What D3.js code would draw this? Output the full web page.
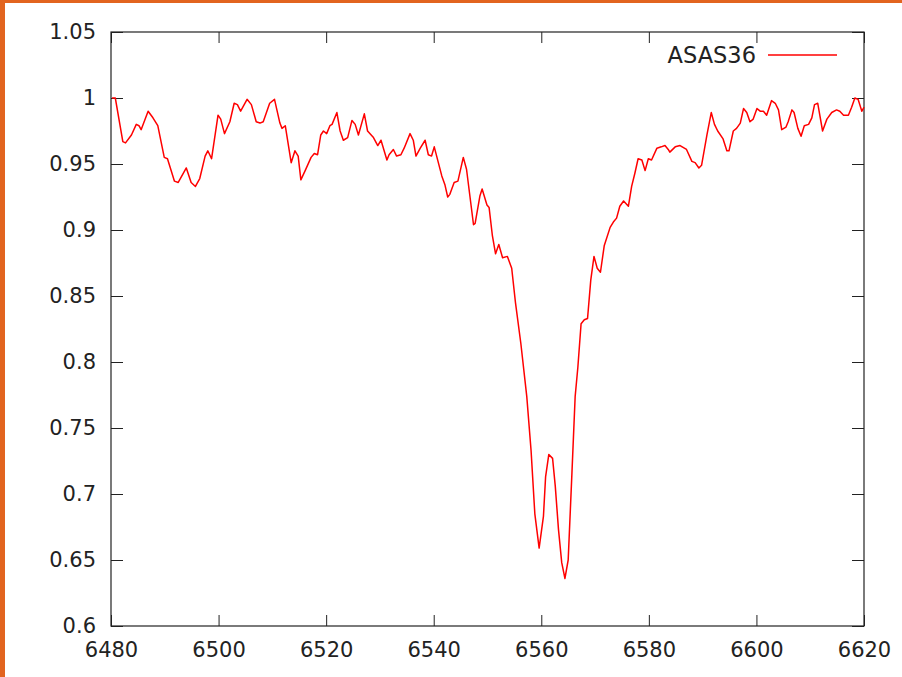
<!DOCTYPE html>
<html>
<head>
<meta charset="utf-8">
<script src="https://cdn.jsdelivr.net/npm/d3@7"></script>
<style>
	body { margin: 0; background: #ffffff; }
	svg { display: block; }
</style>
</head>
<body>
<div id="chart"></div>
<script>

// spectrum, wavelength in angstrom
var wavelength = [
	6480.2, 6480.8, 6482.2, 6482.7, 6483.8, 6484.7, 6485.2, 6485.6, 6486.9, 6487.8,
	6488.7, 6489.9, 6490.5, 6491.8, 6492.5, 6494.0, 6494.9, 6495.7, 6496.5, 6497.5,
	6498.0, 6498.7, 6499.9, 6500.4, 6501.1, 6502.1, 6502.9, 6503.5, 6504.1, 6505.3,
	6506.1, 6507.0, 6507.7, 6508.3, 6509.5, 6510.4, 6511.4, 6511.8, 6512.4, 6513.5,
	6514.2, 6514.8, 6515.3, 6516.1, 6517.2, 6517.8, 6518.4, 6519.0, 6519.5, 6520.1,
	6520.7, 6521.1, 6522.0, 6522.6, 6523.2, 6524.0, 6524.8, 6525.4, 6526.0, 6527.1,
	6527.7, 6528.8, 6529.6, 6530.2, 6531.3, 6531.7, 6532.5, 6533.1, 6533.9, 6534.5,
	6535.6, 6536.2, 6536.7, 6537.5, 6538.4, 6539.0, 6539.6, 6540.1, 6541.5, 6542.1,
	6542.6, 6543.0, 6543.8, 6544.5, 6545.5, 6546.1, 6547.4, 6547.7, 6548.6, 6549.0,
	6549.9, 6550.3, 6550.9, 6551.5, 6552.1, 6552.8, 6553.7, 6554.5, 6555.2, 6556.2,
	6557.3, 6558.1, 6558.8, 6559.6, 6560.4, 6560.8, 6561.4, 6562.1, 6562.6, 6563.2,
	6563.8, 6564.4, 6565.0, 6565.7, 6566.3, 6566.8, 6567.4, 6568.0, 6568.6, 6569.2,
	6569.8, 6570.4, 6571.0, 6571.7, 6572.8, 6573.4, 6574.0, 6574.6, 6575.3, 6576.2,
	6576.8, 6577.4, 6578.0, 6578.7, 6579.3, 6579.9, 6580.5, 6581.5, 6582.3, 6583.0,
	6583.6, 6583.9, 6584.9, 6585.8, 6587.0, 6588.0, 6588.6, 6589.3, 6589.8, 6590.8,
	6591.6, 6592.2, 6592.8, 6593.8, 6594.5, 6594.9, 6595.7, 6596.3, 6597.0, 6597.6,
	6598.2, 6598.8, 6599.4, 6600.1, 6600.7, 6601.3, 6601.9, 6602.8, 6603.5, 6604.1,
	6604.7, 6605.5, 6605.9, 6606.6, 6607.0, 6607.7, 6608.3, 6608.9, 6609.7, 6610.3,
	6610.8, 6611.4, 6612.3, 6613.1, 6614.0, 6614.9, 6615.5, 6616.2, 6617.1, 6617.7,
	6618.3, 6618.9, 6619.6, 6620.0
];

var flux = [
	1.000, 1.000, 0.967, 0.966, 0.972, 0.980, 0.979, 0.976, 0.990, 0.985,
	0.979, 0.955, 0.954, 0.937, 0.936, 0.947, 0.936, 0.933, 0.939, 0.956,
	0.960, 0.954, 0.987, 0.984, 0.973, 0.982, 0.996, 0.995, 0.990, 0.999,
	0.995, 0.982, 0.981, 0.982, 0.996, 0.999, 0.981, 0.977, 0.979, 0.951,
	0.960, 0.956, 0.938, 0.945, 0.955, 0.958, 0.957, 0.972, 0.975, 0.973,
	0.979, 0.980, 0.989, 0.975, 0.968, 0.970, 0.983, 0.980, 0.972, 0.988,
	0.975, 0.970, 0.964, 0.968, 0.953, 0.957, 0.961, 0.956, 0.957, 0.962,
	0.973, 0.968, 0.956, 0.962, 0.968, 0.957, 0.956, 0.963, 0.941, 0.934,
	0.925, 0.927, 0.936, 0.937, 0.955, 0.946, 0.904, 0.905, 0.926, 0.931,
	0.919, 0.917, 0.896, 0.882, 0.889, 0.879, 0.880, 0.871, 0.845, 0.814,
	0.774, 0.733, 0.685, 0.659, 0.683, 0.713, 0.730, 0.727, 0.706, 0.673,
	0.648, 0.636, 0.650, 0.716, 0.774, 0.796, 0.829, 0.832, 0.833, 0.862,
	0.880, 0.871, 0.868, 0.888, 0.902, 0.906, 0.909, 0.918, 0.922, 0.918,
	0.933, 0.943, 0.954, 0.953, 0.945, 0.954, 0.953, 0.962, 0.963, 0.964,
	0.961, 0.959, 0.963, 0.964, 0.961, 0.952, 0.951, 0.947, 0.949, 0.972,
	0.989, 0.980, 0.975, 0.969, 0.960, 0.960, 0.975, 0.977, 0.981, 0.992,
	0.989, 0.982, 0.984, 0.992, 0.990, 0.990, 0.987, 0.998, 0.996, 0.991,
	0.976, 0.978, 0.982, 0.991, 0.989, 0.977, 0.971, 0.979, 0.980, 0.985,
	0.995, 0.996, 0.975, 0.984, 0.989, 0.991, 0.990, 0.987, 0.987, 0.993,
	1.000, 0.999, 0.990, 0.993
];

var xTicks = [6480, 6500, 6520, 6540, 6560, 6580, 6600, 6620];
var yTicks = [0.6, 0.65, 0.7, 0.75, 0.8, 0.85, 0.9, 0.95, 1, 1.05];
var seriesName = "ASAS36";


var width = 902;
var height = 677;
var margin = {top: 32, right: 38, bottom: 51, left: 111};

var plotW = width - margin.left - margin.right;
var plotH = height - margin.top - margin.bottom;

var svg = d3.select("#chart").append("svg")
	.attr("width", width)
	.attr("height", height);

// orange frame strips along the left and top of the screenshot
svg.append("rect")
	.attr("x", 0).attr("y", 0)
	.attr("width", width).attr("height", 3)
	.attr("fill", "#e2641f");
svg.append("rect")
	.attr("x", 0).attr("y", 0)
	.attr("width", 5).attr("height", height)
	.attr("fill", "#e2641f");

var g = svg.append("g")
	.attr("transform", "translate(" + margin.left + "," + margin.top + ")");

var x = d3.scaleLinear().domain([6480, 6620]).range([0, plotW]);
var y = d3.scaleLinear().domain([0.6, 1.05]).range([plotH, 0]);

var fontStyle = function(sel)
{
	sel.selectAll("text")
		.attr("font-family", "'DejaVu Sans', sans-serif")
		.attr("font-size", 21)
		.attr("fill", "#222");
	sel.selectAll("line").attr("stroke", "#222");
	sel.select(".domain").remove();
}

g.append("g")
	.attr("transform", "translate(0," + plotH + ")")
	.call(d3.axisBottom(x).tickValues(xTicks).tickSize(-11).tickSizeOuter(0).tickPadding(16)
		.tickFormat(d3.format("d")))
	.call(fontStyle);

g.append("g")
	.call(d3.axisLeft(y).tickValues(yTicks).tickSize(-12).tickSizeOuter(0).tickPadding(15)
		.tickFormat(function(d) { return String(+d.toFixed(2)); }))
	.call(fontStyle);

g.append("g")
	.call(d3.axisTop(x).tickValues(xTicks).tickSize(-11).tickSizeOuter(0).tickFormat(""))
	.call(fontStyle);

g.append("g")
	.attr("transform", "translate(" + plotW + ",0)")
	.call(d3.axisRight(y).tickValues(yTicks).tickSize(-12).tickSizeOuter(0).tickFormat(""))
	.call(fontStyle);

// plot border
g.append("rect")
	.attr("x", 0).attr("y", 0)
	.attr("width", plotW).attr("height", plotH)
	.attr("fill", "none")
	.attr("stroke", "#222")
	.attr("stroke-width", 1.2);

var points = wavelength.map(function(w, i) { return [w, flux[i]]; });

var line = d3.line()
	.x(function(d) { return x(d[0]); })
	.y(function(d) { return y(d[1]); });

g.append("path")
	.datum(points)
	.attr("d", line)
	.attr("fill", "none")
	.attr("stroke", "#ff0000")
	.attr("stroke-width", 1.5)
	.attr("stroke-linejoin", "round");

// key, top right
var legend = g.append("g")
	.attr("transform", "translate(" + (plotW - 96) + ",23)");

legend.append("text")
	.attr("x", -12)
	.attr("y", 0)
	.attr("dy", "0.35em")
	.attr("text-anchor", "end")
	.attr("font-family", "'DejaVu Sans', sans-serif")
	.attr("font-size", 22.5)
	.attr("fill", "#222")
	.text(seriesName);

legend.append("line")
	.attr("x1", 0).attr("x2", 69)
	.attr("y1", 0).attr("y2", 0)
	.attr("stroke", "#ff0000")
	.attr("stroke-width", 1.4);

</script>
</body>
</html>
